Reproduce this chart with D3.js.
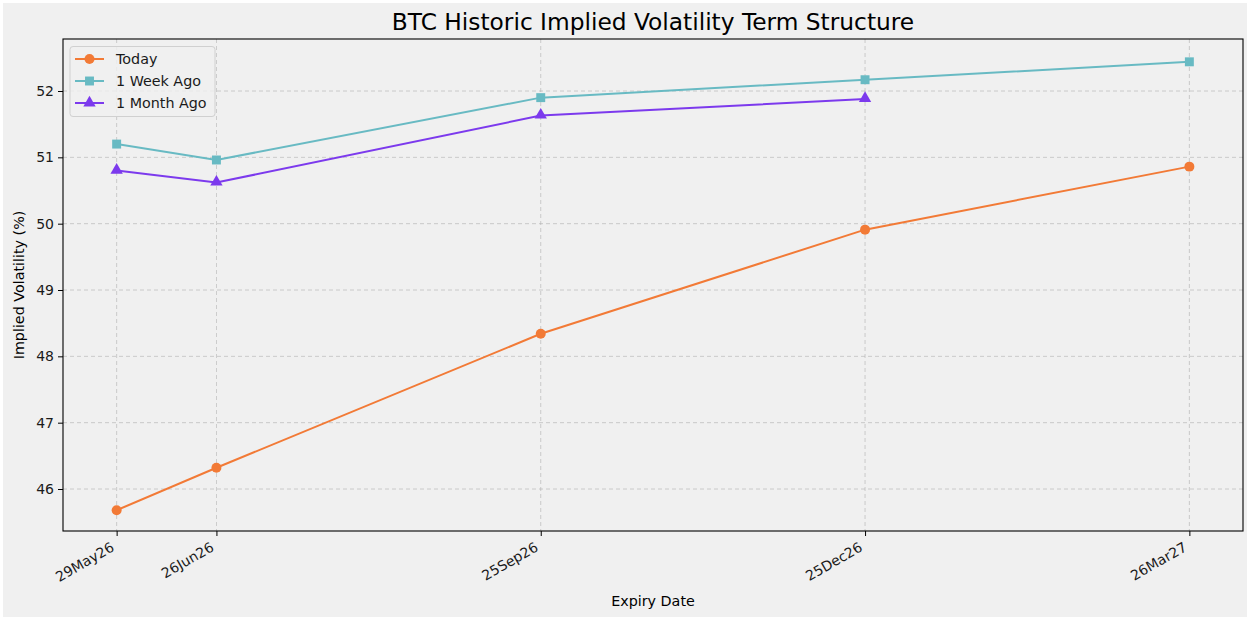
<!DOCTYPE html>
<html><head><meta charset="utf-8">
<script src="https://cdn.jsdelivr.net/npm/d3@7"></script>
<style>
body{margin:0;background:#ffffff;}
svg{display:block;font-family:"DejaVu Sans",sans-serif;}
</style></head>
<body>
<svg id="chart" width="1250" height="620"></svg>
<script>
const expiries = ["29May26","26Jun26","25Sep26","25Dec26","26Mar27"];
const todayIV = [45.68, 46.32, 48.34, 49.91, 50.86];
const weekAgoIV = [51.20, 50.96, 51.90, 52.17, 52.44];
const monthAgoIV = [50.80, 50.62, 51.63, 51.88];
const yTicks = [46, 47, 48, 49, 50, 51, 52];
const seriesNames = ["Today", "1 Week Ago", "1 Month Ago"];
const seriesColors = ["#f27a36", "#68bac3", "#7c3aed"];
const seriesMarkers = ["circle", "square", "triangle"];

const parse = d3.timeParse("%d%b%y");
const dates = expiries.map(parse);
const allSeries = [todayIV, weekAgoIV, monthAgoIV];

const svg = d3.select("#chart");
svg.append("rect").attr("x",3).attr("y",3).attr("width",1244).attr("height",614).attr("fill","#f0f0f0");

const L = 63, R = 1243, T = 39, B = 531;
const tMin = d3.min(dates), tMax = d3.max(dates), span = tMax - tMin;
const x = d3.scaleTime()
  .domain([new Date(+tMin - span*0.05), new Date(+tMax + span*0.05)])
  .range([L, R]);
const y = d3.scaleLinear().domain([45.367, 52.784]).range([B, T]);

// grid
const grid = svg.append("g");
dates.forEach(d => grid.append("line").attr("x1", x(d)).attr("x2", x(d)).attr("y1", T).attr("y2", B)
  .attr("stroke","#b0b0b0").attr("stroke-width",0.8).attr("stroke-dasharray","4,3").attr("opacity",0.75));
yTicks.forEach(v => grid.append("line").attr("x1", L).attr("x2", R).attr("y1", y(v)).attr("y2", y(v))
  .attr("stroke","#b0b0b0").attr("stroke-width",0.8).attr("stroke-dasharray","4,3").attr("opacity",0.75));

// axes
const xAxis = d3.axisBottom(x).tickValues(dates).tickFormat((d,i)=>expiries[i]).tickSize(5).tickSizeOuter(0);
const gx = svg.append("g").attr("transform",`translate(0,${B})`).call(xAxis);
gx.select(".domain").remove();
gx.selectAll(".tick line").attr("stroke","#000").attr("stroke-width",1);
gx.selectAll(".tick text").attr("fill","#1a1a1a").style("font-size","14px").style("font-family","DejaVu Sans")
  .attr("text-anchor","end").attr("dy",null).attr("y",0)
  .attr("transform","translate(-2,19) rotate(-30)");

const yAxis = d3.axisLeft(y).tickValues(yTicks).tickFormat(d3.format("d")).tickSize(5).tickSizeOuter(0);
const gy = svg.append("g").attr("transform",`translate(${L},0)`).call(yAxis);
gy.select(".domain").remove();
gy.selectAll(".tick line").attr("stroke","#000").attr("stroke-width",1);
gy.selectAll(".tick text").attr("fill","#1a1a1a").style("font-size","14px").style("font-family","DejaVu Sans").attr("x",-9);

svg.append("rect").attr("x",L).attr("y",T).attr("width",R-L).attr("height",B-T)
  .attr("fill","none").attr("stroke","#000").attr("stroke-width",1.1);

// series
const sym = {circle: d3.symbolCircle, square: d3.symbolSquare, triangle: d3.symbolTriangle};
const symSize = {circle: 78, square: 80, triangle: 66};
allSeries.forEach((vals, si) => {
  const pts = vals.map((v,i)=>[dates[i], v]);
  const line = d3.line().x(d=>x(d[0])).y(d=>y(d[1]));
  svg.append("path").attr("d", line(pts)).attr("fill","none").attr("stroke",seriesColors[si]).attr("stroke-width",2);
  svg.append("g").selectAll("path").data(pts).join("path")
    .attr("d", d3.symbol().type(sym[seriesMarkers[si]]).size(symSize[seriesMarkers[si]]))
    .attr("transform", d=>`translate(${x(d[0])},${y(d[1]) + (seriesMarkers[si]==="triangle"?-0.5:0)})`)
    .attr("fill", seriesColors[si]);
});

// title and labels
svg.append("text").attr("x",(L+R)/2).attr("y",30).attr("text-anchor","middle")
  .style("font-size","23.3px").attr("fill","#000").text("BTC Historic Implied Volatility Term Structure");
svg.append("text").attr("x",(L+R)/2).attr("y",606).attr("text-anchor","middle")
  .style("font-size","14.3px").attr("fill","#000").text("Expiry Date");
svg.append("text").attr("transform",`translate(24,${(T+B)/2}) rotate(-90)`).attr("text-anchor","middle")
  .style("font-size","14.3px").attr("fill","#000").text("Implied Volatility (%)");

// legend
const lg = svg.append("g");
lg.append("rect").attr("x",70).attr("y",46.5).attr("width",145).attr("height",70).attr("rx",3)
  .attr("fill","#f0f0f0").attr("fill-opacity",0.8).attr("stroke","#d0d0d0").attr("stroke-width",1);
seriesNames.forEach((n, i) => {
  const yy = 59 + i*22;
  lg.append("line").attr("x1",75).attr("x2",104).attr("y1",yy).attr("y2",yy).attr("stroke",seriesColors[i]).attr("stroke-width",2);
  lg.append("path").attr("d", d3.symbol().type(sym[seriesMarkers[i]]).size(symSize[seriesMarkers[i]]))
    .attr("transform",`translate(89.5,${yy})`).attr("fill",seriesColors[i]);
  lg.append("text").attr("x",116).attr("y",yy+5).style("font-size","14.3px").attr("fill","#1a1a1a").text(n);
});
</script>
</body></html>
